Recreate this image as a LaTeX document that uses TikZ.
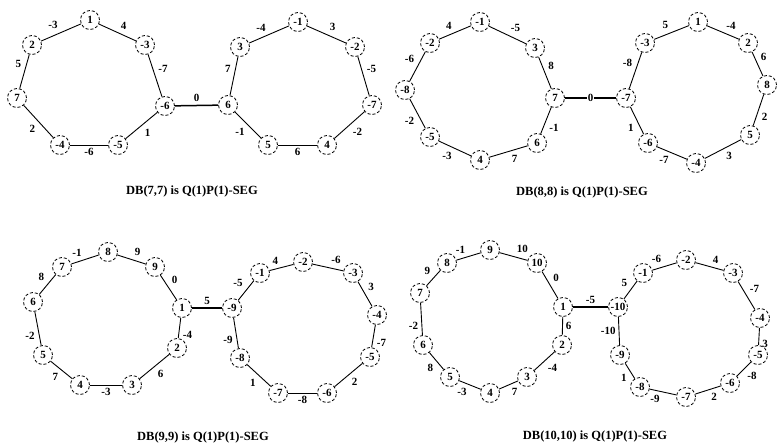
\documentclass[tikz,border=0pt]{standalone}
\usepackage{fontspec}
\setmainfont{Liberation Serif}

\tikzset{
  vtx/.style={circle, draw, densely dashed, line width=0.8pt, minimum size=19pt,
    inner sep=0pt, font=\bfseries\fontsize{11}{11}\selectfont},
  ring/.style={line width=0.9pt},
  link/.style={line width=1.5pt},
  wt/.style={auto, inner sep=3pt, font=\bfseries\fontsize{11}{11}\selectfont},
  title/.style={font=\bfseries\fontsize{12.5}{12.5}\selectfont}
}

\begin{document}
\begin{tikzpicture}[x=1pt, y=-1pt]
  \useasboundingbox (0,0) rectangle (778,447);

  % DB(7,7)
  \foreach \n/\x/\y/\t in {aL1/90/20/1, aL2/145/45/-3, aL3/165/106/-6, aL4/118/145/-5,
      aL5/60/145/-4, aL6/17/98/7, aL7/32/45/2,
      aR1/298/22/-1, aR2/355/47/-2, aR3/372/105/-7, aR4/327/145/4,
      aR5/268/145/5, aR6/228/105/6, aR7/240/47/3}
    \node[vtx] (\n) at (\x,\y) {\t};
  \foreach \a/\b/\w in {aL1/aL2/4, aL2/aL3/-7, aL3/aL4/1, aL4/aL5/-6, aL5/aL6/2,
      aL6/aL7/5, aL7/aL1/-3,
      aR1/aR2/3, aR2/aR3/-5, aR3/aR4/-2, aR4/aR5/6, aR5/aR6/-1, aR6/aR7/7, aR7/aR1/-4}
    \draw[ring] (\a) -- node[wt] {\w} (\b);
  \draw[link] (aL3) -- node[wt] {0} (aR6);
  \node[title] (capA) at (192,191) {DB(7,7) is Q(1)P(1)-SEG};

  % DB(8,8)
  \foreach \n/\x/\y/\t in {bL1/480/22/-1, bL2/535/48/3, bL3/555/98/7, bL4/537/143/6,
      bL5/480/160/4, bL6/430/137/-5, bL7/405/90/-8, bL8/430/43/-2,
      bR1/698/22/1, bR2/748/43/2, bR3/767/85/8, bR4/750/135/5,
      bR5/696/163/-4, bR6/648/143/-6, bR7/626/98/-7, bR8/645/43/-3}
    \node[vtx] (\n) at (\x,\y) {\t};
  \foreach \a/\b/\w in {bL1/bL2/-5, bL2/bL3/8, bL3/bL4/-1, bL4/bL5/7, bL5/bL6/-3,
      bL6/bL7/-2, bL7/bL8/-6, bL8/bL1/4,
      bR1/bR2/-4, bR2/bR3/6, bR3/bR4/2, bR4/bR5/3, bR5/bR6/-7, bR6/bR7/1,
      bR7/bR8/-8, bR8/bR1/5}
    \draw[ring] (\a) -- node[wt] {\w} (\b);
  \draw[link] (bL3) -- node[wt, auto=false, fill=white, inner sep=1pt] {0} (bR7);
  \node[title] (capB) at (582,192) {DB(8,8) is Q(1)P(1)-SEG};

  % DB(9,9)
  \foreach \n/\x/\y/\t in {cL1/108/252/8, cL2/155/267/9, cL3/182/308/1, cL4/177/348/2,
      cL5/132/385/3, cL6/80/385/4, cL7/43/355/5, cL8/33/302/6, cL9/62/267/7,
      cR1/303/262/-2, cR2/353/273/-3, cR3/377/315/-4, cR4/370/357/-5,
      cR5/327/393/-6, cR6/278/393/-7, cR7/240/358/-8, cR8/232/308/-9, cR9/260/273/-1}
    \node[vtx] (\n) at (\x,\y) {\t};
  \foreach \a/\b/\w in {cL1/cL2/9, cL2/cL3/0, cL3/cL4/-4, cL4/cL5/6, cL5/cL6/-3,
      cL6/cL7/7, cL7/cL8/-2, cL8/cL9/8, cL9/cL1/-1,
      cR1/cR2/-6, cR2/cR3/3, cR3/cR4/-7, cR4/cR5/2, cR5/cR6/-8, cR6/cR7/1,
      cR7/cR8/-9, cR8/cR9/-5, cR9/cR1/4}
    \draw[ring] (\a) -- node[wt] {\w} (\b);
  \draw[link] (cL3) -- node[wt] {5} (cR8);
  \node[title] (capC) at (203,437) {DB(9,9) is Q(1)P(1)-SEG};

  % DB(10,10)
  \foreach \n/\x/\y/\t in {dL1/490/250/9, dL2/537/263/10, dL3/563/307/1, dL4/562/345/2,
      dL5/527/377/3, dL6/490/393/4, dL7/450/377/5, dL8/423/345/6, dL9/420/293/7,
      dL10/447/263/8,
      dR1/686/260/-2, dR2/733/273/-3, dR3/760/318/-4, dR4/758/355/-5,
      dR5/730/383/-6, dR6/686/397/-7, dR7/640/387/-8, dR8/620/355/-9,
      dR9/618/307/-10, dR10/643/273/-1}
    \node[vtx] (\n) at (\x,\y) {\t};
  \foreach \a/\b/\w in {dL1/dL2/10, dL2/dL3/0, dL3/dL4/6, dL4/dL5/-4, dL5/dL6/7,
      dL6/dL7/-3, dL7/dL8/8, dL8/dL9/-2, dL9/dL10/9, dL10/dL1/-1,
      dR1/dR2/4, dR2/dR3/-7, dR3/dR4/3, dR4/dR5/-8, dR5/dR6/2, dR6/dR7/-9,
      dR7/dR8/1, dR8/dR9/-10, dR9/dR10/5, dR10/dR1/-6}
    \draw[ring] (\a) -- node[wt] {\w} (\b);
  \draw[link] (dL3) -- node[wt] {-5} (dR9);
  \node[title] (capD) at (595,436) {DB(10,10) is Q(1)P(1)-SEG};
\end{tikzpicture}
\end{document}
